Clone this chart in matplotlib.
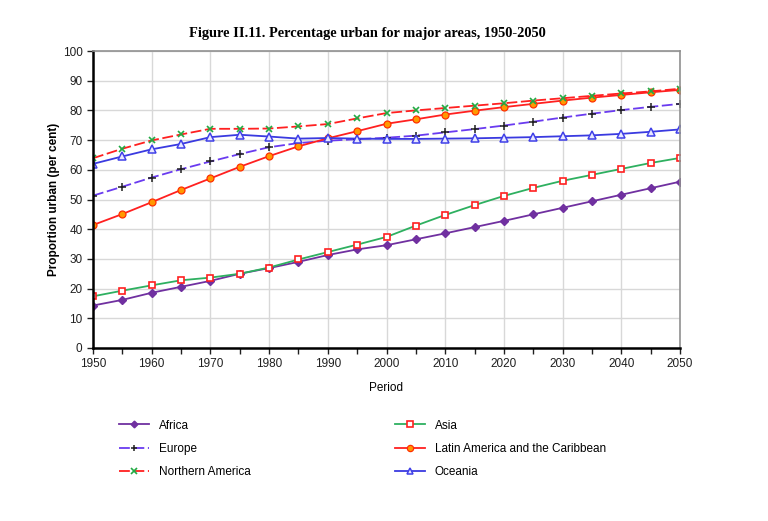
import matplotlib
matplotlib.use('Agg')
import matplotlib.pyplot as plt
import numpy as np

years = list(range(1950, 2051, 5))

africa = [14.3, 16.2, 18.6, 20.6, 22.6, 25.0, 26.9, 29.0, 31.3, 33.2, 34.6,
          36.6, 38.6, 40.7, 42.8, 45.0, 47.2, 49.4, 51.6, 53.8, 56.0]
asia = [17.4, 19.3, 21.1, 22.8, 23.7, 25.0, 27.1, 29.8, 32.3, 34.8, 37.4,
        41.2, 44.8, 48.1, 51.2, 53.9, 56.3, 58.3, 60.3, 62.3, 64.0]
europe = [51.3, 54.3, 57.4, 60.2, 62.8, 65.3, 67.6, 69.0, 69.8, 70.3, 70.8,
          71.5, 72.6, 73.7, 74.9, 76.2, 77.6, 78.9, 80.1, 81.2, 82.2]
latin = [41.4, 45.1, 49.1, 53.2, 57.1, 61.0, 64.6, 67.9, 70.6, 73.0, 75.5,
         77.0, 78.6, 79.9, 81.1, 82.2, 83.3, 84.3, 85.2, 86.1, 86.9]
n_america = [63.9, 67.1, 69.9, 71.9, 73.8, 73.8, 73.9, 74.6, 75.4, 77.3, 79.1,
             80.0, 80.8, 81.6, 82.4, 83.3, 84.1, 84.9, 85.7, 86.4, 87.3]
oceania = [62.0, 64.5, 66.9, 68.7, 71.0, 71.8, 71.2, 70.5, 70.7, 70.5, 70.4,
           70.4, 70.5, 70.6, 70.8, 71.0, 71.3, 71.6, 72.1, 72.8, 73.6]

plt.rcParams['font.family'] = ['Liberation Sans', 'DejaVu Sans']

fig = plt.figure(figsize=(7.68, 5.21), dpi=100)
ax = fig.add_axes([93 / 768, 1 - 348 / 521, (680 - 93) / 768, (348 - 51) / 521])

l1, = ax.plot(years, africa, color='#7030A0', marker='D', ms=3.8,
              mfc='#7030A0', mec='#7030A0', lw=1.3, label='Africa')
l2, = ax.plot(years, asia, color='#2EB060', marker='s', ms=4.8,
              mfc='white', mec='#FF2020', mew=1.2, lw=1.3, label='Asia')
l3, = ax.plot(years, europe, color='#6A3BF0', ls=(0, (6, 2)), marker='+', ms=5.5,
              mec='#202020', mew=1.1, lw=1.3, label='Europe')
l4, = ax.plot(years, latin, color='#FF2020', marker='o', ms=5,
              mfc='#FF9900', mec='#FF3000', mew=0.9, lw=1.3,
              label='Latin America and the Caribbean')
l5, = ax.plot(years, n_america, color='#FF2020', ls=(0, (6, 2)), marker='x', ms=4.8,
              mec='#22AA44', mew=1.2, lw=1.3, label='Northern America')
l6, = ax.plot(years, oceania, color='#3A3AE0', marker='^', ms=5.2,
              mfc='#E8E8FF', mec='#4040E8', mew=1.1, lw=1.3, label='Oceania')

ax.set_xlim(1950, 2050)
ax.set_ylim(0, 100)
ax.set_xticks(range(1950, 2051, 10))
ax.set_xticks(range(1955, 2050, 10), minor=True)
ax.set_yticks(range(0, 101, 10))
ax.grid(True, which='major', color='#D8D8D8', lw=1.0)
ax.set_axisbelow(True)
ax.tick_params(axis='both', which='both', direction='out', labelsize=8.5,
               length=4, width=1, colors='#202020')
ax.tick_params(axis='x', which='minor', length=4)

ax.spines['left'].set_color('black')
ax.spines['left'].set_linewidth(1.8)
ax.spines['bottom'].set_color('black')
ax.spines['bottom'].set_linewidth(1.8)
for s in ['top', 'right']:
    ax.spines[s].set_color('#909090')
    ax.spines[s].set_linewidth(1.2)

ax.set_xlabel('Period', fontsize=8.5, labelpad=8)
ax.set_ylabel('Proportion urban (per cent)', fontsize=8.5, fontweight='bold',
              labelpad=2)

fig.text(367 / 768, 1 - 34 / 521,
         'Figure II.11. Percentage urban for major areas, 1950-2050',
         ha='center', va='center', fontsize=10.4, fontweight='bold',
         family=['Liberation Serif', 'DejaVu Serif'])

fig.legend([l1, l3, l5, l2, l4, l6],
           ['Africa', 'Europe', 'Northern America', 'Asia',
            'Latin America and the Caribbean', 'Oceania'],
           ncol=2, loc='upper left', bbox_to_anchor=(108 / 768, 1 - 409 / 521),
           frameon=False, fontsize=8.5, columnspacing=12.2, handlelength=2.55,
           labelspacing=0.95, handletextpad=0.85, markerscale=0.9)

fig.savefig('out.png', dpi=100)
